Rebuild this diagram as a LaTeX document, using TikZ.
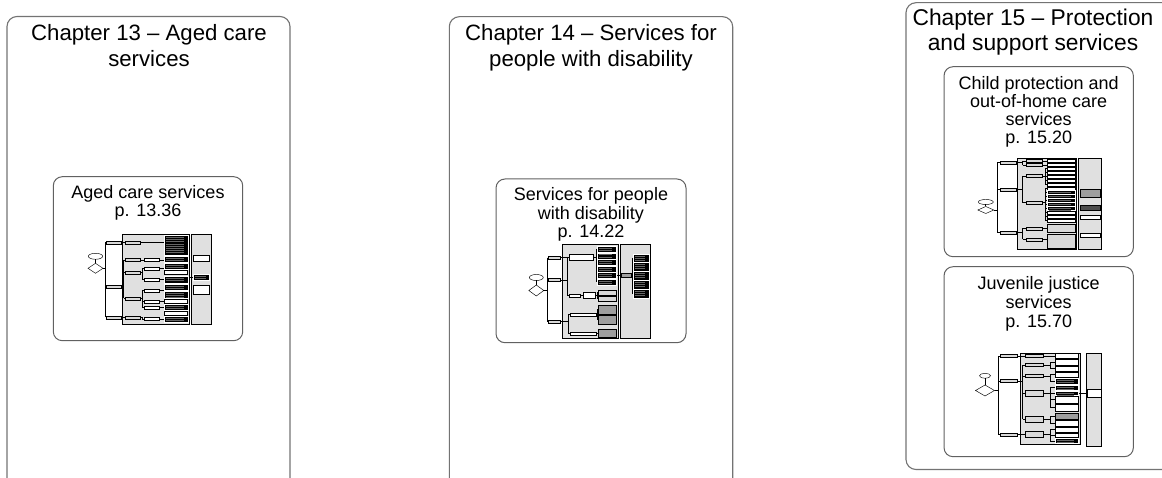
\documentclass[tikz,border=0pt]{standalone}
\usepackage{fontspec}
\setmainfont{Liberation Sans}
\newcommand\hb[5]{\draw[#1] (#2,{#4-(#5)/2}) rectangle (#3,{#4+(#5)/2});}
\newcommand\bbt[4]{\draw[bb] (#1,#2) rectangle (#3,#4);
  \pgfmathsetmacro\bbtA{#2+1.7}\pgfmathsetmacro\bbtB{#2+3.9}\pgfmathsetmacro\bbtE{#4-1.1}%
  \foreach \yy in {\bbtA,\bbtB,...,\bbtE} \draw[txl] ({#1+1.6},\yy) -- ({#3-4},\yy);}
\begin{document}
\begin{tikzpicture}[x=1pt,y=-1pt,
  chapframe/.style={draw=black!55, line width=1.1pt, rounded corners=10pt},
  subframe/.style={draw=black!62, line width=1pt, rounded corners=9pt, inner sep=0pt},
  ttl/.style={font=\fontsize{22.2}{26}\selectfont, anchor=base, inner sep=0pt},
  ttlb/.style={font=\fontsize{22.8}{26}\selectfont, anchor=base, inner sep=0pt},
  sub/.style={font=\fontsize{18}{19}\selectfont, anchor=base, inner sep=0pt},
  panel/.style={fill=black!12, draw=black, line width=0.9pt},
  wb/.style={fill=white, draw=black, line width=0.45pt},
  lb/.style={fill=black!15, draw=black, line width=0.45pt},
  bb/.style={fill=black, draw=white, line width=0.3pt},
  txl/.style={draw=black!60, line width=0.35pt},
  gb/.style={fill=black!38, draw=black, line width=0.45pt},
  ln/.style={draw=black, line width=0.7pt},
]
\useasboundingbox (0,0) rectangle (1162,478);

% ---------------- chapter frames ----------------
\draw[chapframe] (7,495) -- (7,16.5) -- (290,16.5) -- (290,495);
\draw[chapframe] (449.3,495) -- (449.3,16.7) -- (732.7,16.7) -- (732.7,495);
\draw[chapframe] (1180,2.7) -- (906,2.7) -- (906,469.5) -- (1180,469.5);

\node[ttl] (t13a) at (149,40.5) {Chapter 13 – Aged care};
\node[ttl] (t13b) at (149,67) {services};
\node[ttl] (t14a) at (591,40.5) {Chapter 14 – Services for};
\node[ttl] (t14b) at (591,67) {people with disability};
\node[ttlb] (t15a) at (1033,25.5) {Chapter 15 – Protection};
\node[ttlb] (t15b) at (1033,51) {and support services};

% ---------------- sub frames ----------------
\node[subframe, minimum width=189.4pt, minimum height=164pt] (b13) at (148,258.7) {};
\node[subframe, minimum width=190pt, minimum height=163.7pt] (b14) at (591,260.85) {};
\node[subframe, minimum width=189.3pt, minimum height=190pt] (b151) at (1038.7,161.7) {};
\node[subframe, minimum width=189.3pt, minimum height=190pt] (b152) at (1038.7,361.7) {};

\node[sub] (s13a) at (148,198.3) {Aged care services};
\node[sub] (s13b) at (148,216.3) {p. 13.36};
\node[sub] (s14a) at (591,200.7) {Services for people};
\node[sub] (s14b) at (591,219.2) {with disability};
\node[sub] (s14c) at (591,237.2) {p. 14.22};
\node[sub] (s151a) at (1038.7,89.3) {Child protection and};
\node[sub] (s151b) at (1038.7,107.5) {out-of-home care};
\node[sub] (s151c) at (1038.7,125.8) {services};
\node[sub] (s151d) at (1038.7,144) {p. 15.20};
\node[sub] (s152a) at (1038.7,290) {Juvenile justice};
\node[sub] (s152b) at (1038.7,308.5) {services};
\node[sub] (s152c) at (1038.7,327) {p. 15.70};

% ================= thumbnail 13 =================
\draw[panel] (122.7,234.3) rectangle (189,324.3);
\draw[panel] (191,234.3) rectangle (211.7,324.3);
\draw[wb] (95.5,256.3) ellipse [x radius=7.2, y radius=3];
\draw[ln] (95.5,259.3) -- (95.5,263.3);
\draw[wb] (88,268.3) -- (95.5,263.3) -- (103,268.3) -- (95.5,273.3) -- cycle;
\draw[ln] (103,268.3) -- (105.7,268.3);
\draw[ln] (105.7,242.3) -- (105.7,317.3);
\foreach \y in {242.3,286.7,317.3} \draw[ln] (105.7,\y) -- (106.7,\y);
\draw[ln] (121.7,242.3) -- (164.3,242.3);
\draw[ln] (121.7,286.7) -- (123.5,286.7);
\draw[ln] (123.5,260) -- (123.5,298.3);
\foreach \y in {260,272.7,298.3} \draw[ln] (123.5,\y) -- (125,\y);
\draw[ln] (121.7,317.3) -- (125,317.3);
\draw[ln] (140,260) -- (144,260);
\draw[ln] (140,272.7) -- (142,272.7);
\draw[ln] (142,268.3) -- (142,279.3);
\draw[ln] (140,298.3) -- (142,298.3);
\draw[ln] (142,290.7) -- (142,307.3);
\draw[ln] (140,317.3) -- (142,317.3) -- (142,319);
\foreach \y in {268.3,279.3,290.7,301.7,307.3,319} \draw[ln] (142,\y) -- (144,\y);
\foreach \y in {260,268.3,279.3,290.7,301.7,307.3,319} \draw[ln] (159.5,\y) -- (164.3,\y);
\draw[ln] (187.7,277) -- (193.5,277);
\foreach \y in {242.3,286.7,317.3} \hb{lb}{106.7}{121.7}{\y}{3}
\foreach \y in {242.3,260,272.7,298.3,317.3} \hb{lb}{125}{140}{\y}{3}
\foreach \y in {260,268.3,279.3,290.7,301.7,307.3,319} \hb{wb}{144}{159.5}{\y}{3}
\foreach \a/\b in {235.5/255,256/262,263/269.5,276/283,284/290,291/298.5,304/310.5,316/322.5}
  {\bbt{164.3}{\a}{187.7}{\b}}
\foreach \a/\b in {270.5/274.5,299.5/302.8,311.5/314.8}
  \draw[wb] (164.3,\a) rectangle (187.7,\b);
\draw[wb] (193.5,255) rectangle (209.5,261);
\bbt{193.5}{274}{209.5}{280}
\draw[wb] (193.5,285) rectangle (209.5,294);

% ================= thumbnail 14 =================
\draw[panel] (562.7,244) rectangle (618.3,338.3);
\draw[panel] (620,244) rectangle (650,338.3);
\draw[wb] (536.3,277.5) ellipse [x radius=7, y radius=3];
\draw[ln] (536.3,280.5) -- (536.3,285);
\draw[wb] (528.8,290.5) -- (536.3,285) -- (543.8,290.5) -- (536.3,296) -- cycle;
\draw[ln] (543.8,290.5) -- (547.7,290.5);
\draw[ln] (547.7,257.7) -- (547.7,321.7);
\foreach \y in {257.7,280,321.7} \draw[ln] (547.7,\y) -- (548.7,\y);
\draw[ln] (560.7,257.7) -- (569.3,257.7);
\draw[ln] (560.7,280) -- (567.3,280);
\draw[ln] (567.3,257.7) -- (567.3,295.7) -- (569.3,295.7);
\draw[ln] (580.7,295.7) -- (583.3,295.7);
\draw[ln] (595,295.7) -- (597,295.7);
\draw[ln] (597,292.3) -- (597,298.6);
\draw[ln] (593.3,257.7) -- (596,257.7);
\draw[ln] (596,249) -- (596,282);
\draw[ln] (560.7,321.7) -- (568.3,321.7);
\draw[ln] (568.3,314.3) -- (568.3,333.3);
\draw[ln] (568.3,314.3) -- (570,314.3);
\draw[ln] (568.3,333.3) -- (570,333.3);
\draw[ln] (596,314.3) -- (597,314.3);
\draw[ln] (597,309.5) -- (597,320);
\draw[ln] (596,333.3) -- (598.3,333.3);
\draw[ln] (616,275) -- (621.7,275);
\draw[ln] (631.7,275) -- (632.5,275);
\draw[ln] (632.5,258) -- (632.5,294);
\foreach \y in {257.7,280,321.7} \hb{lb}{548.7}{560.7}{\y}{3}
\hb{wb}{569.3}{593.3}{257.7}{6}
\hb{wb}{569.3}{580.7}{295.7}{3}
\hb{wb}{583.3}{595}{295.7}{6}
\hb{wb}{570}{596}{314.3}{3}
\hb{wb}{570}{596}{333.3}{3}
\hb{lb}{598.3}{616}{292.3}{5}
\hb{lb}{598.3}{616}{298.6}{5}
\foreach \a/\b in {246/252.3,252.8/259,259.5/265.5,266/272,272.5/278.5,279/285}
  {\bbt{597.3}{\a}{616}{\b}}
\foreach \a/\b in {305/314,315.5/324.5,329/337.5}
  \draw[gb] (598.3,\a) rectangle (616,\b);
\hb{gb}{621.7}{631.7}{275}{4}
\foreach \a/\b in {254.3/262,262.5/271,271.5/280,280.5/289,289.5/298.3}
  {\bbt{633.3}{\a}{649.3}{\b}}

% ================= thumbnail 15a =================
\draw[panel] (1017.3,158.3) rectangle (1076,249.3);
\draw[panel] (1078.3,158.3) rectangle (1101.7,249.3);
\draw[wb] (985.8,202) ellipse [x radius=7.5, y radius=2.5];
\draw[ln] (985.8,204.5) -- (985.8,206.5);
\draw[wb] (977.8,210) -- (985.8,206.5) -- (993.8,210) -- (985.8,213.5) -- cycle;
\draw[ln] (993.8,210) -- (997.3,210);
\draw[ln] (997.3,162.7) -- (997.3,232.7);
\foreach \y in {162.7,189.3,232.7} \draw[ln] (997.3,\y) -- (1000,\y);
\draw[ln] (1016,162.7) -- (1022.7,162.7);
\draw[ln] (1022.7,161) -- (1022.7,165);
\draw[ln] (1016,189.3) -- (1022.7,189.3);
\draw[ln] (1022.7,176) -- (1022.7,202.7);
\draw[ln] (1016,232.7) -- (1022.7,232.7);
\draw[ln] (1022.7,228.3) -- (1022.7,239.3);
\foreach \y in {161,165,176,202.7,228.3,239.3} \draw[ln] (1022.7,\y) -- (1026,\y);
\foreach \y in {161,165} \draw[ln] (1042.7,\y) -- (1047.3,\y);
\draw[ln] (1042.7,176) -- (1045,176);
\draw[ln] (1045,168.5) -- (1045,184.5);
\draw[ln] (1042.7,202.7) -- (1045,202.7);
\draw[ln] (1045,188.5) -- (1045,220.5);
\foreach \y in {168.5,172.5,176.5,180.5,184.5,188.5,192.5,196.5,200.5,204.5,208.5,212.5,216.5,220.5} \draw[ln] (1045,\y) -- (1047.3,\y);
\draw[ln] (1042.7,228.3) -- (1047.3,228.3);
\draw[ln] (1042.7,239.3) -- (1047.3,239.3);
\foreach \y in {162.7,189.3,232.7} \hb{lb}{1000}{1016}{\y}{3}
\foreach \y in {161,165,176,202.7,228.3,239.3} \hb{lb}{1026}{1042.7}{\y}{3}
\foreach \y in {161,165,168.5,172.5,176.5,180.5,184.5,188.5,212.5,216.5,220.5} \hb{wb}{1047.3}{1075}{\y}{3.4}
\foreach \y in {192.5,196.5,200.5,204.5,208.5} {\bbt{1047.3}{\y-2}{1075}{\y+2}}
\draw[lb] (1047.3,224.5) rectangle (1075,232.5);
\draw[lb] (1047.3,234.5) rectangle (1075,248);
\draw[gb] (1080,189.3) rectangle (1100,197.3);
\draw[fill=black!70, draw=black, line width=0.45pt] (1080,205.5) rectangle (1100,210.5);
\draw[wb] (1080,215.5) rectangle (1100,219.5);
\draw[wb] (1080,233.5) rectangle (1100,237.5);

% ================= thumbnail 15b =================
\draw[panel] (1020,353.3) rectangle (1080,444.3);
\draw[panel] (1086,353.3) rectangle (1101.7,446);
\draw[wb] (985,375.8) ellipse [x radius=5.5, y radius=2.5];
\draw[ln] (985,378.3) -- (985,385);
\draw[wb] (975.5,390.5) -- (985,385) -- (994.5,390.5) -- (985,396) -- cycle;
\draw[ln] (994.5,390.5) -- (998.3,390.5);
\draw[ln] (998.3,356) -- (998.3,434.3);
\foreach \y in {356,381,434.3} \draw[ln] (998.3,\y) -- (1000.7,\y);
\draw[ln] (1017.7,356) -- (1025,356);
\draw[ln] (1043.3,356) -- (1055,356);
\draw[ln] (1017.7,381) -- (1022.7,381);
\draw[ln] (1022.7,365) -- (1022.7,419);
\foreach \y in {365,376,393,419} \draw[ln] (1022.7,\y) -- (1025,\y);
\draw[ln] (1017.7,434.3) -- (1025,434.3);
\foreach \y in {365,376,393,419,434.3} \draw[ln] (1043.3,\y) -- (1050,\y);
\draw[ln] (1050,362) -- (1050,368.5);
\draw[ln] (1050,374.5) -- (1050,381);
\draw[ln] (1050,387.5) -- (1050,407.5);
\draw[ln] (1050,416) -- (1050,423);
\draw[ln] (1050,429.7) -- (1050,441);
\foreach \y in {362,368.5,374.5,381,387.5,393,399.5,407.5,416,423,429.7,435.2,441} \draw[ln] (1050,\y) -- (1055,\y);
\draw[ln] (1078.3,393) -- (1087,393);
\foreach \y in {356,381,434.3} \hb{lb}{1000.7}{1017.7}{\y}{3}
\hb{lb}{1025}{1043.3}{356}{3}
\hb{lb}{1025}{1043.3}{365}{3}
\hb{lb}{1025}{1043.3}{376}{3}
\hb{lb}{1025}{1043.3}{393}{6}
\hb{lb}{1025}{1043.3}{419}{6}
\hb{lb}{1025}{1043.3}{434.3}{6}
\foreach \a/\b in {353.5/358.5,359.5/365,366/371,372/377,396/403,404/411,420/426,427.5/432,433/437.5}
  \draw[wb] (1055,\a) rectangle (1078.3,\b);
\foreach \a/\b in {378/384,385/390.5,391.5/395.5,438.5/443.5}
  {\bbt{1055}{\a}{1078.3}{\b}}
\draw[gb] (1055,413) rectangle (1078.3,419);
\draw[wb] (1087,389.5) rectangle (1101,397);
\end{tikzpicture}
\end{document}
